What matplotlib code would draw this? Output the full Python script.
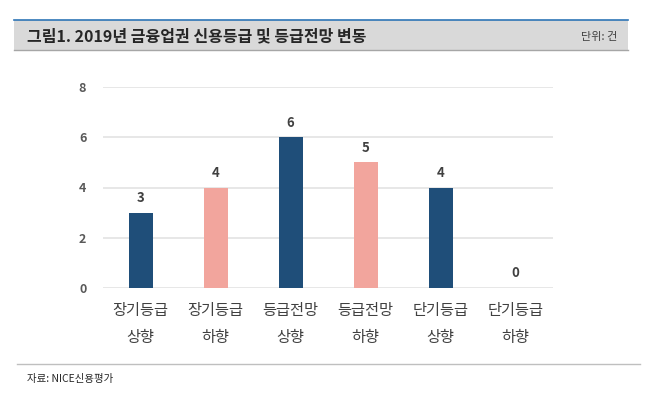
import matplotlib.pyplot as plt
from matplotlib.patches import Rectangle
from matplotlib.lines import Line2D

plt.rcParams['font.family'] = ['Noto Sans CJK KR', 'DejaVu Sans']

categories = ['장기등급\n상향', '장기등급\n하향', '등급전망\n상향', '등급전망\n하향', '단기등급\n상향', '단기등급\n하향']
values = [3, 4, 6, 5, 4, 0]
colors = ['#1f4e79', '#f2a59d', '#1f4e79', '#f2a59d', '#1f4e79', '#f2a59d']
yticks = [0, 2, 4, 6, 8]

fig = plt.figure(figsize=(6.54, 3.98), dpi=100)

# header band
fig.patches.append(Rectangle((14 / 654, 1 - 50 / 398), 614 / 654, 30 / 398,
                             transform=fig.transFigure, facecolor='#d9d9d9', edgecolor='none'))
fig.lines.append(Line2D([14 / 654, 628 / 654], [1 - 20 / 398] * 2, transform=fig.transFigure,
                        color='#2e75b6', lw=1.2))
fig.lines.append(Line2D([14 / 654, 628 / 654], [1 - 50 / 398] * 2, transform=fig.transFigure,
                        color='#a6a6a6', lw=1.0))
fig.text(27 / 654, 1 - 36 / 398, '그림1. 2019년 금융업권 신용등급 및 등급전망 변동', fontsize=11.5,
         fontweight='bold', color='#262626', va='center', ha='left')
fig.text(617 / 654, 1 - 37 / 398, '단위: 건', fontsize=8, color='#404040', va='center', ha='right')

# footer
fig.lines.append(Line2D([17 / 654, 640 / 654], [1 - 364 / 398] * 2, transform=fig.transFigure,
                        color='#bfbfbf', lw=1.0))
fig.text(27 / 654, 1 - 379 / 398, '자료: NICE신용평가', fontsize=7.5, color='#262626', va='center', ha='left')

ax = fig.add_axes([103 / 654, 1 - 288 / 398, 450 / 654, 201 / 398])
x = range(len(categories))
bars = ax.bar(x, values, width=0.32, color=colors, zorder=3)
for xi, v in zip(x, values):
    ax.text(xi, v + 0.3, str(v), ha='center', va='bottom', fontsize=9.5, fontweight='bold', color='#404040')

ax.set_xlim(-0.5, len(categories) - 0.5)
ax.set_ylim(0, 8)
ax.set_yticks(yticks)
ax.set_yticklabels([str(t) for t in yticks], fontsize=9, fontweight='bold', color='#595959')
ax.set_xticks(list(x))
ax.set_xticklabels(categories, fontsize=11, fontweight='medium', color='#404040', linespacing=1.75)
ax.tick_params(length=0, pad=12)
ax.tick_params(axis='x', pad=10)
ax.grid(axis='y', color='#e3e3e3', lw=1.2, zorder=0)
for s in ax.spines.values():
    s.set_visible(False)

fig.savefig('out.png', dpi=100)
